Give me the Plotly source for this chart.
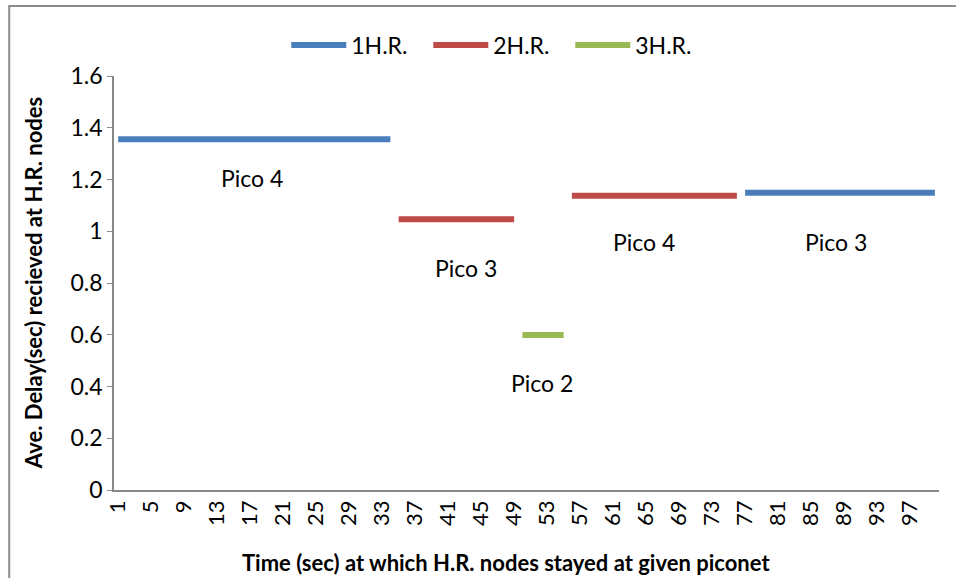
import plotly.graph_objects as go

# time axis categories (sec)
time_sec = list(range(1, 101))
tick_vals = [1, 5, 9, 13, 17, 21, 25, 29, 33, 37, 41, 45, 49, 53, 57, 61, 65, 69, 73, 77, 81, 85, 89, 93, 97]

# (first second, last second, average delay) per stay
hr1_stays = [(1, 34, 1.356), (77, 100, 1.149)]
hr2_stays = [(35, 49, 1.046), (56, 76, 1.137)]
hr3_stays = [(50, 55, 0.599)]

# piconet labels: (x, y, text)
pico_labels = [
    (17.2, 1.206, "Pico 4"),
    (43.2, 0.858, "Pico 3"),
    (52.4, 0.413, "Pico 2"),
    (64.8, 0.960, "Pico 4"),
    (88.0, 0.960, "Pico 3"),
]

SERIES = [
    ("1H.R.", hr1_stays, "#4a7ebb"),
    ("2H.R.", hr2_stays, "#be4b48"),
    ("3H.R.", hr3_stays, "#98b954"),
]

FONT = "Lato, 'Open Sans', sans-serif"


def series_values(stays):
    vals = [None] * len(time_sec)
    for start, end, v in stays:
        for i, t in enumerate(time_sec):
            if start <= t <= end:
                vals[i] = v
    return vals


fig = go.Figure()
for name, stays, color in SERIES:
    fig.add_trace(go.Scatter(
        x=time_sec, y=series_values(stays), mode="lines", name=name,
        line=dict(color=color, width=6), connectgaps=False,
    ))

for x, y, text in pico_labels:
    fig.add_annotation(x=x, y=y, text=text, showarrow=False,
                       font=dict(family=FONT, size=23, color="#000000"))

# axis titles are centred on the chart area, not the plot area (Excel style)
fig.add_annotation(xref="paper", yref="paper", x=0.475, y=-0.176,
                   xanchor="center", yanchor="middle",
                   text="<b>Time (sec) at which H.R. nodes stayed at given piconet</b>",
                   showarrow=False, font=dict(family=FONT, size=22, color="#000000"))
fig.add_annotation(xref="paper", yref="paper", x=-0.098, y=0.5, textangle=-90,
                   xanchor="center", yanchor="middle",
                   text="<b>Ave. Delay(sec) recieved at H.R. nodes</b>",
                   showarrow=False, font=dict(family=FONT, size=22, color="#000000"))

# chart-area border (right and bottom edges fall outside the picture)
fig.add_shape(type="rect", xref="paper", yref="paper",
              x0=-0.127, x1=1.2, y0=-0.3, y1=1.169,
              line=dict(color="#8c8c8c", width=2), layer="below")

fig.update_layout(
    width=956, height=578,
    paper_bgcolor="white", plot_bgcolor="white",
    font=dict(family=FONT, size=23, color="#000000"),
    margin=dict(l=114, r=17, t=76, b=88, autoexpand=False),
    showlegend=True,
    legend=dict(orientation="h", x=0.467, xanchor="center", y=1.075, yanchor="middle",
                font=dict(size=23), itemwidth=55, entrywidth=72, entrywidthmode="pixels",
                tracegroupgap=0),
)
fig.update_xaxes(
    range=[0.5, 100.5], tickmode="array", tickvals=tick_vals, tickangle=-90,
    showgrid=False, zeroline=False, showline=True, linecolor="#888888", linewidth=1.5,
    ticks="", tickfont=dict(size=22), automargin=False,
)
fig.update_yaxes(
    range=[0, 1.6], dtick=0.2, showgrid=False, zeroline=False,
    showline=True, linecolor="#888888", linewidth=1.5, ticks="outside", ticklen=5,
    tickcolor="#888888", tickfont=dict(size=23), automargin=False,
)

fig.write_html("out.html", config={"displayModeBar": False},
               post_script="document.body.style.margin='0px';")
